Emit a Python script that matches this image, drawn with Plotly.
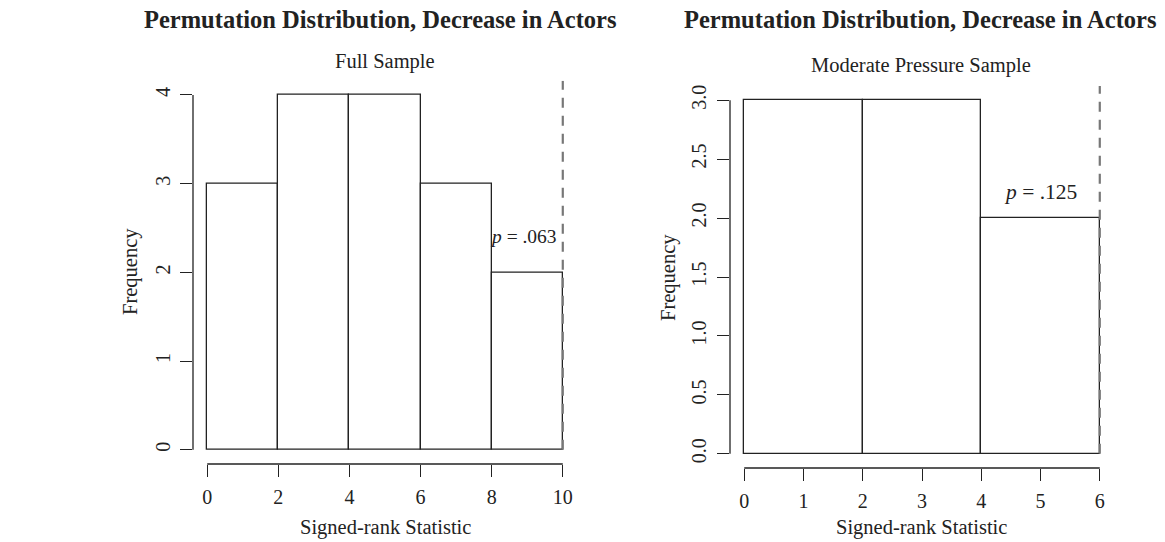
import plotly.graph_objects as go

W, H = 1165, 542

# ---- data ----
full_edges = [0, 2, 4, 6, 8, 10]
full_counts = [3, 4, 4, 3, 2]
full_obs = 10
full_p = ".063"

mod_edges = [0, 2, 4, 6]
mod_counts = [3, 3, 2]
mod_obs = 6
mod_p = ".125"

full_xticks = [0, 2, 4, 6, 8, 10]
full_yticks = [0, 1, 2, 3, 4]
mod_xticks = [0, 1, 2, 3, 4, 5, 6]
mod_yticks = [0, 0.5, 1.0, 1.5, 2.0, 2.5, 3.0]

main_title = "Permutation Distribution, Decrease in Actors"
sub_full = "Full Sample"
sub_mod = "Moderate Pressure Sample"
xlab = "Signed-rank Statistic"
ylab = "Frequency"

FONT = "Liberation Serif, Times New Roman, serif"
INK = "#222222"


def px(x):
    return x / W


def py(y):
    return 1 - y / H


fig = go.Figure()


def add_hist(edges, counts, xa, ya):
    centers = [(edges[i] + edges[i + 1]) / 2 for i in range(len(counts))]
    widths = [edges[i + 1] - edges[i] for i in range(len(counts))]
    fig.add_trace(go.Bar(
        x=centers, y=counts, width=widths, base=0,
        marker=dict(color="white", line=dict(color=INK, width=1.3)),
        xaxis=xa, yaxis=ya, showlegend=False, hoverinfo="skip",
    ))


add_hist(full_edges, full_counts, "x", "y")
add_hist(mod_edges, mod_counts, "x2", "y2")

axis_common = dict(
    showgrid=False, zeroline=False, showline=False,
    ticks="outside", ticklen=12, tickwidth=1.2, tickcolor=INK,
    tickfont=dict(family=FONT, size=20, color=INK),
    fixedrange=True,
)

fig.update_layout(
    width=W, height=H,
    margin=dict(l=0, r=0, t=0, b=0),
    paper_bgcolor="white", plot_bgcolor="white",
    bargap=0,
    xaxis=dict(domain=[px(193), px(577)], range=[-0.4, 10.4],
               tickvals=full_xticks, ticklabelstandoff=3, anchor="y", **axis_common),
    yaxis=dict(domain=[py(464), py(80.8)], range=[-0.16, 4.16],
               tickvals=full_yticks, tickangle=-90, ticklabelstandoff=2, anchor="x", **axis_common),
    xaxis2=dict(domain=[px(730), px(1114)], range=[-0.24, 6.24],
                tickvals=mod_xticks, ticklabelstandoff=3, anchor="y2", **axis_common),
    yaxis2=dict(domain=[py(468), py(86)], range=[-0.12, 3.12],
                tickvals=mod_yticks, tickformat=".1f", tickangle=-90, ticklabelstandoff=3,
                anchor="x2", **axis_common),
)

shapes = []
# axis lines (R style, spanning only the tick range)
for xr, yr, xt, yt in [("x", "y", full_xticks, full_yticks), ("x2", "y2", mod_xticks, mod_yticks)]:
    shapes.append(dict(type="line", xref=xr, yref=yr + " domain", x0=xt[0], x1=xt[-1], y0=0, y1=0,
                       line=dict(color=INK, width=1.3)))
    shapes.append(dict(type="line", xref=xr + " domain", yref=yr, x0=0, x1=0, y0=yt[0], y1=yt[-1],
                       line=dict(color=INK, width=1.3)))

# observed statistic (dashed)
shapes.append(dict(type="line", xref="x", yref="y", x0=full_obs, x1=full_obs, y0=0, y1=4.16,
                   line=dict(color="#777777", width=2.2, dash="10px,8px")))
shapes.append(dict(type="line", xref="x2", yref="y2", x0=mod_obs, x1=mod_obs, y0=0, y1=3.12,
                   line=dict(color="#777777", width=2.2, dash="10px,8px")))
fig.update_layout(shapes=shapes)

ann = []


def text(x, y, s, size, bold=False, angle=0):
    ann.append(dict(x=px(x), y=py(y), xref="paper", yref="paper", text=("<b>%s</b>" % s) if bold else s,
                    showarrow=False, textangle=angle, xanchor="center", yanchor="middle",
                    font=dict(family=FONT, size=size, color=INK)))


text(380, 20, main_title, 24.5, bold=True)
text(920, 20, main_title, 24.5, bold=True)
text(385, 61, sub_full, 20.5)
text(921, 65, sub_mod, 20.5)
text(385, 527, xlab, 20.5)
text(921, 527, xlab, 20.5)
text(130, 272, ylab, 20.5, angle=-90)
text(668, 277, ylab, 20.5, angle=-90)

ann.append(dict(x=8.9, y=2.4, xref="x", yref="y", text="<i>p</i> = " + full_p,
                showarrow=False, font=dict(family=FONT, size=19.5, color=INK)))
ann.append(dict(x=5.0, y=2.22, xref="x2", yref="y2", text="<i>p</i> = " + mod_p,
                showarrow=False, font=dict(family=FONT, size=21.5, color=INK)))
fig.update_layout(annotations=ann)

fig.write_html("out.html")
